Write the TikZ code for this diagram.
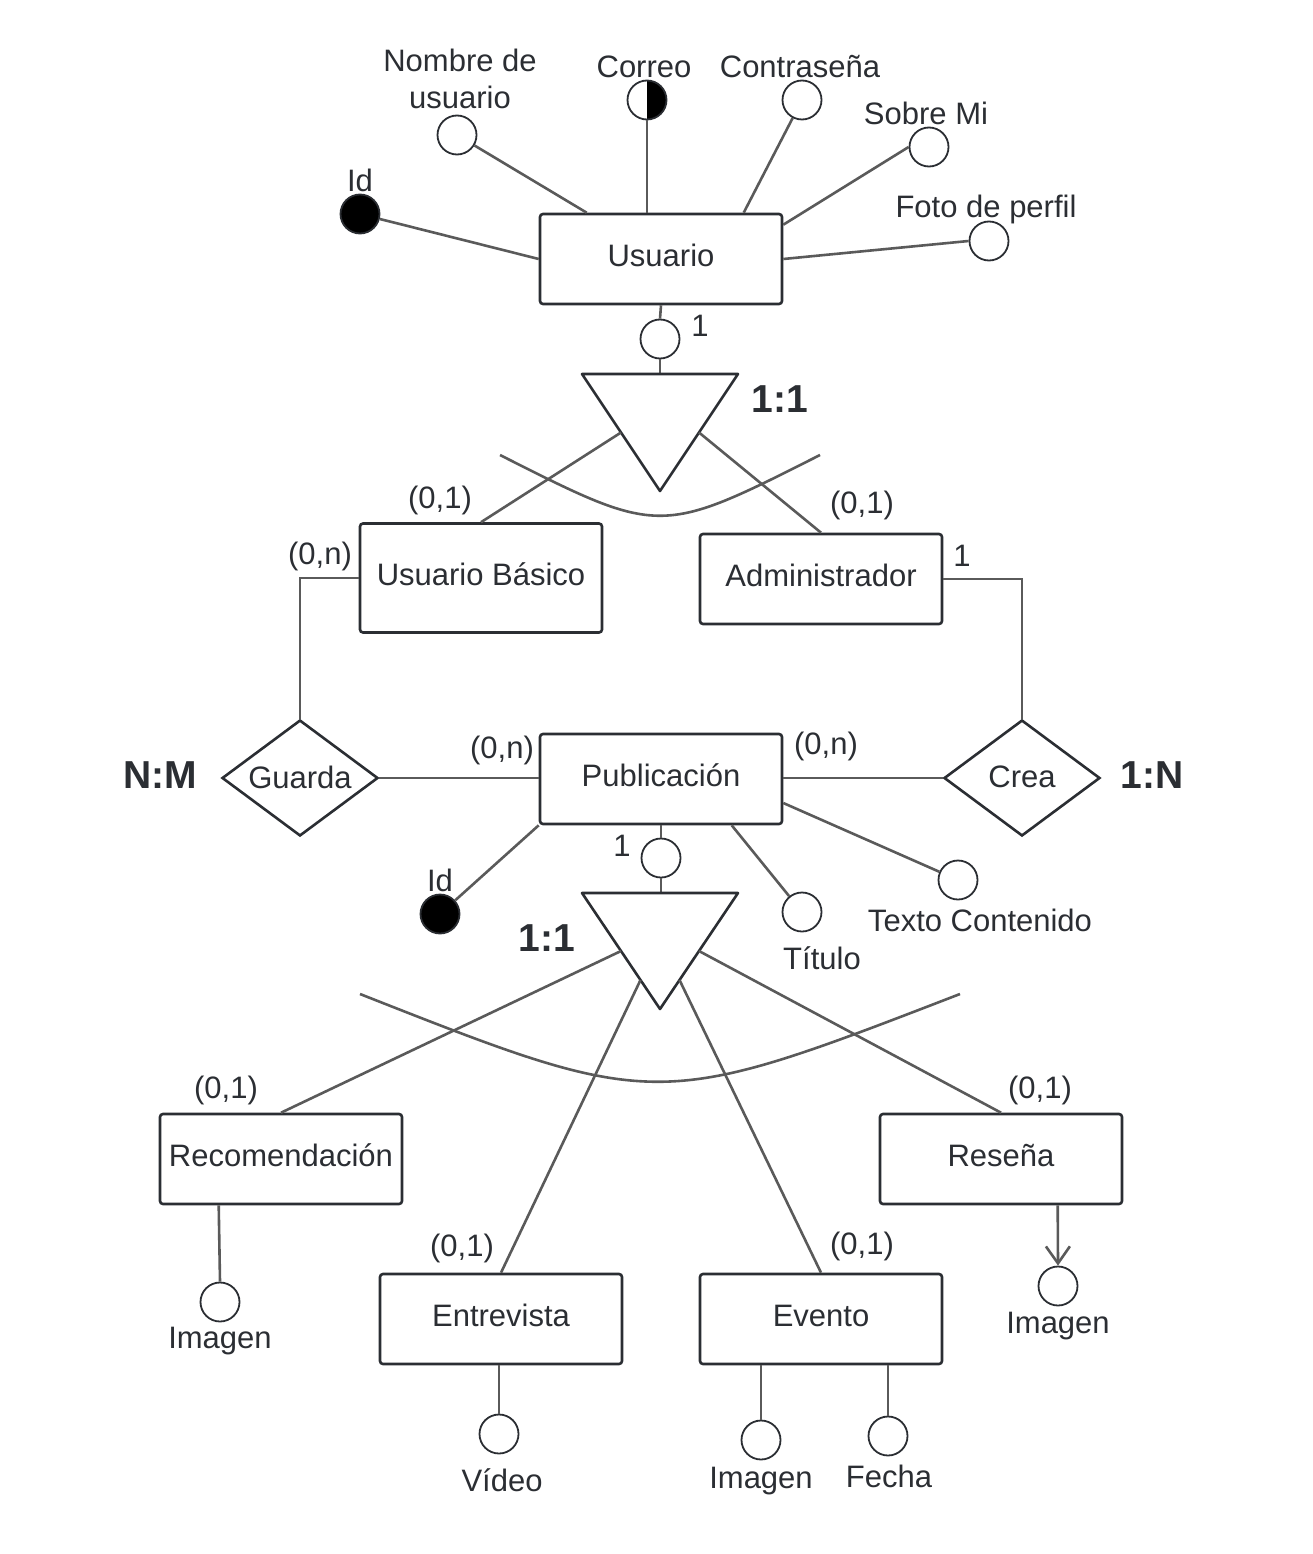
\documentclass[tikz,border=0pt]{standalone}
\usepackage{fontspec}
\setmainfont{Liberation Sans}
\usetikzlibrary{shapes.geometric,arrows.meta,calc}
\definecolor{boxc}{HTML}{2B2E33}
\definecolor{linec}{HTML}{5A5A5A}
\definecolor{txtc}{HTML}{2B2E33}
\begin{document}
\begin{tikzpicture}[x=1pt,y=-1pt,
 ent/.style={draw=boxc,line width=2.6pt,rounded corners=3pt,minimum width=242pt,minimum height=90pt,inner sep=0pt,fill=white,text=txtc,font=\fontsize{31}{37}\selectfont,text height=22pt,text depth=8pt},
 att/.style={circle,draw=boxc,line width=1.8pt,minimum size=39pt,inner sep=0pt,fill=white},
 keyatt/.style={att,fill=black},
 lbl/.style={text=txtc,font=\fontsize{31}{37}\selectfont,inner sep=0pt,align=center},
 big/.style={text=txtc,font=\bfseries\fontsize{39}{44}\selectfont,inner sep=0pt},
 con/.style={draw=linec,line width=2.6pt},
 rel/.style={diamond,draw=boxc,line width=2.6pt,minimum width=156pt,minimum height=116pt,inner sep=0pt,fill=white,
   label={[text=txtc,font=\fontsize{31}{37}\selectfont,yshift=1pt]center:#1}},
 tri/.style={draw=boxc,line width=2.6pt,line join=round,fill=white},
 halfatt/.style={att,path picture={\fill[black] (path picture bounding box.north) rectangle (path picture bounding box.south east);}}
]
\useasboundingbox (0,0) rectangle (1312,1554);

% ---------- entities ----------
\node[ent] (usu) at (661,259) {Usuario};
\node[ent,minimum height=109pt] (ubas) at (481,578) {Usuario Básico};
\node[ent] (adm) at (821,579) {Administrador};
\node[ent] (pub) at (661,779) {Publicación};
\node[ent] (rec) at (281,1159) {Recomendación};
\node[ent] (res) at (1001,1159) {Reseña};
\node[ent] (ent) at (501,1319) {Entrevista};
\node[ent] (evt) at (821,1319) {Evento};

% ---------- relationships ----------
\node[rel=Guarda] (gua) at (300,778) {};
\node[rel=Crea] (crea) at (1022,778) {};

% ---------- Usuario attributes ----------
\node[keyatt] (idu) at (360,214) {};
\node[att] (nom) at (457,135) {};
\node[halfatt] (cor) at (647,100) {};
\node[att] (con) at (802,100) {};
\node[att] (sob) at (929,147) {};
\node[att] (fot) at (989,241) {};

\node[lbl] (lidu) at (360,180) {Id};
\node[lbl] (lnom) at (460,79) {Nombre de\\usuario};
\node[lbl] (lcor) at (644,67) {Correo};
\node[lbl] (lcon) at (800,67) {Contraseña};
\node[lbl] (lsob) at (926,113) {Sobre Mi};
\node[lbl] (lfot) at (986,209) {Foto de perfil};

\draw[con] (idu) -- (usu.west);
\draw[con] (nom) -- ($(usu.north west)+(48,0)$);
\draw[con] (cor) -- (cor |- usu.north);
\draw[con] (con) -- ($(usu.north west)+(205,0)$);
\draw[con] (sob.west) -- ($(usu.north east)+(0,12)$);
\draw[con] (fot.west) -- (usu.east);

% ---------- specialization 1 ----------
\node[att] (c1) at (660,339) {};
\coordinate (t1a) at (582,374);
\coordinate (t1b) at (738,374);
\coordinate (t1c) at (660,491);
\draw[con] (usu.south) -- (c1.north);
\draw[con] (c1.south) -- (c1.south |- t1a);
\draw[tri] (t1a) -- (t1b) -- (t1c) -- cycle;
\draw[con] ($(t1a)!0.5!(t1c)$) -- (ubas.north);
\draw[con] ($(t1b)!0.5!(t1c)$) -- (adm.north);
\coordinate (a1s) at (500,455);
\coordinate (a1c) at (660,536);
\coordinate (a1e) at (820,455);
\draw[con] (a1s) .. controls (a1c) .. (a1e);
\node[lbl] (l1a) at (700,326) {1};
\node[big] (l11a) at (780,399) {1:1};
\node[lbl] (lub) at (440,500) {(0,1)};
\node[lbl] (lad) at (862,505) {(0,1)};
\node[lbl] (lad1) at (962,556) {1};
\node[lbl] (lubn) at (320,556) {(0,n)};

% ---------- relationships connectors ----------
\draw[con] (ubas.west) -| (gua.north);
\draw[con] (adm.east) -| (crea.north);
\draw[con] (gua.east) -- (gua.east -| pub.west);
\draw[con] (crea.west) -- (crea.west -| pub.east);
\node[big] (lnm) at (160,775) {N:M};
\node[big] (l1n) at (1152,775) {1:N};
\node[lbl] (lpg) at (502,750) {(0,n)};
\node[lbl] (lpc) at (826,746) {(0,n)};

% ---------- Publicacion attributes ----------
\node[keyatt] (idp) at (440,914) {};
\node[att] (tit) at (802,912) {};
\node[att] (tex) at (958,880) {};
\draw[con] (idp) -- (pub.south west);
\draw[con] ($(pub.south west)+(193,0)$) -- (tit);
\draw[con] ($(pub.east)+(0,24)$) -- (tex);
\node[lbl] (lidp) at (440,880) {Id};
\node[lbl] (ltit) at (822,958) {Título};
\node[lbl] (ltex) at (980,920) {Texto Contenido};

% ---------- specialization 2 ----------
\node[att] (c2) at (661,858) {};
\coordinate (t2a) at (582,893);
\coordinate (t2b) at (738,893);
\coordinate (t2c) at (660,1009);
\draw[con] (pub.south) -- (c2.north);
\draw[con] (c2.south) -- (c2.south |- t2a);
\draw[tri] (t2a) -- (t2b) -- (t2c) -- cycle;
\draw[con] ($(t2a)!0.5!(t2c)$) -- (rec.north);
\draw[con] ($(t2a)!0.75!(t2c)$) -- (ent.north);
\draw[con] ($(t2b)!0.75!(t2c)$) -- (evt.north);
\draw[con] ($(t2b)!0.5!(t2c)$) -- (res.north);
\coordinate (a2s) at (360,994);
\coordinate (a2c) at (657,1111);
\coordinate (a2e) at (960,994);
\draw[con] (a2s) .. controls (a2c) .. (a2e);
\node[lbl] (l1b) at (622,846) {1};
\node[big] (l11b) at (547,938) {1:1};
\node[lbl] (lrec) at (226,1090) {(0,1)};
\node[lbl] (lres) at (1040,1090) {(0,1)};
\node[lbl] (lent) at (462,1248) {(0,1)};
\node[lbl] (levt) at (862,1246) {(0,1)};

% ---------- subtype attributes ----------
\node[att] (imr) at (220,1302) {};
\node[att] (ims) at (1058,1286) {};
\node[att] (vid) at (499,1434) {};
\node[att] (ime) at (761,1440) {};
\node[att] (fec) at (888,1436) {};
\draw[con] ($(rec.south west)+(60,0)$) -- (imr.north);
\draw[con,-{Straight Barb[length=17pt,width=24pt,line width=2.6pt]}] ($(res.south west)+(179,0)$) -- (ims.north);
\draw[con] (vid.north |- ent.south) -- (vid.north);
\draw[con] (ime.north |- evt.south) -- (ime.north);
\draw[con] (fec.north |- evt.south) -- (fec.north);
\node[lbl] (limr) at (220,1341) {Imagen};
\node[lbl] (lims) at (1058,1326) {Imagen};
\node[lbl] (lvid) at (502,1480) {Vídeo};
\node[lbl] (lime) at (761,1481) {Imagen};
\node[lbl] (lfec) at (889,1476) {Fecha};
\end{tikzpicture}
\end{document}
